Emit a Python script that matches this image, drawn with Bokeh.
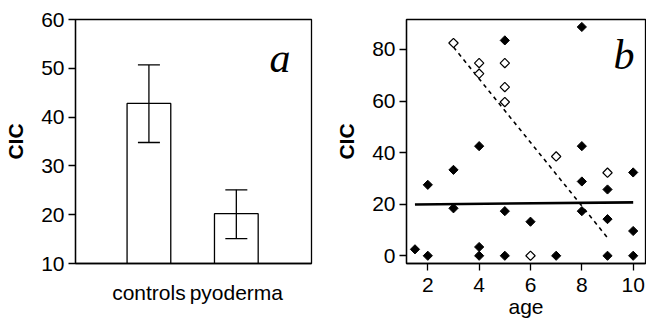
import numpy as np
from bokeh.plotting import figure
from bokeh.layouts import row
from bokeh.models import ColumnDataSource, Whisker, TeeHead, Label, FixedTicker, Range1d
from bokeh.embed import file_html
from bokeh.resources import INLINE

# ---- data: panel a ----
groups = ["controls", "pyoderma"]
group_pos = [1, 2]
cic_mean = [42.8, 20.2]
cic_lower = [34.8, 15.1]
cic_upper = [50.7, 25.1]
a_yticks = [10, 20, 30, 40, 50, 60]

# ---- data: panel b ----
filled_age = [1.5, 2, 2, 3, 3, 4, 4, 4, 5, 5, 5, 6, 7, 8, 8, 8, 8, 9, 9, 9, 10, 10, 10]
filled_cic = [2.5, 0, 27.5, 33.3, 18.4, 42.5, 3.4, 0, 83.5, 17.3, 0, 13.2, 0,
              88.7, 42.5, 28.8, 17.3, 25.7, 14.2, 0, 32.3, 9.6, 0]
open_age = [3, 4, 4, 5, 5, 5, 6, 7, 9]
open_cic = [82.5, 74.7, 70.6, 74.7, 65.4, 59.6, 0, 38.5, 32.2]
filled_fit_age = [1.5, 10]
filled_fit_cic = [19.9, 20.7]
open_fit_age = [3, 9]
open_fit_cic = [80.9, 7.0]
b_xticks = [2, 4, 6, 8, 10]
b_yticks = [0, 20, 40, 60, 80]

SANS = "Liberation Sans"
SERIF = "Liberation Serif"
LW = 1.3
FS = "21px"


def style(p):
    p.xgrid.visible = False
    p.ygrid.visible = False
    p.outline_line_color = "black"
    p.outline_line_width = LW
    p.outline_line_alpha = 1
    p.background_fill_color = "white"
    p.border_fill_color = "white"
    for ax in p.xaxis + p.yaxis:
        ax.axis_line_color = "black"
        ax.axis_line_width = LW
        ax.major_tick_line_color = "black"
        ax.major_tick_line_width = LW
        ax.major_tick_in = 0
        ax.major_tick_out = 7
        ax.minor_tick_in = 0
        ax.minor_tick_out = 0
        ax.major_label_text_font = SANS
        ax.major_label_text_font_size = FS
        ax.major_label_text_color = "black"
        ax.major_label_standoff = 4
        ax.axis_label_text_font = SANS
        ax.axis_label_text_font_size = FS
        ax.axis_label_text_color = "black"
        ax.axis_label_text_font_style = "normal"


# ---------------- panel a ----------------
p1 = figure(width=323, height=321, x_range=Range1d(0.16, 2.86), y_range=Range1d(10, 60),
            output_backend="svg", toolbar_location=None,
            min_border_left=75, min_border_right=12, min_border_top=19, min_border_bottom=58)
style(p1)
p1.vbar(x=group_pos, top=cic_mean, bottom=10, width=0.5,
        fill_color="white", line_color="black", line_width=LW)
src = ColumnDataSource(dict(x=group_pos, lower=cic_lower, upper=cic_upper))
p1.add_layout(Whisker(base="x", lower="lower", upper="upper", source=src, level="overlay",
                      line_color="black", line_width=LW,
                      upper_head=TeeHead(size=22, line_width=LW, line_color="black"),
                      lower_head=TeeHead(size=22, line_width=LW, line_color="black")))
p1.yaxis.ticker = FixedTicker(ticks=a_yticks)
p1.yaxis.axis_label = "CIC"
p1.yaxis.axis_label_text_font_style = "bold"
p1.yaxis.axis_label_standoff = 11
p1.xaxis.ticker = FixedTicker(ticks=group_pos)
p1.xaxis.major_label_overrides = {pos: name for pos, name in zip(group_pos, groups)}
p1.xaxis.major_tick_out = 0
p1.xaxis.major_label_standoff = 17
p1.add_layout(Label(x=2.5, y=52.2, text="a", text_font=SERIF, text_font_style="italic",
                    text_font_size="42px", text_align="center", text_baseline="alphabetic",
                    text_color="black"))

# ---------------- panel b ----------------
p2 = figure(width=323, height=321, x_range=Range1d(1.17, 10.48), y_range=Range1d(-3, 91.6),
            output_backend="svg", toolbar_location=None,
            min_border_left=83, min_border_right=1, min_border_top=19, min_border_bottom=58)
style(p2)
p2.line(filled_fit_age, filled_fit_cic, line_color="black", line_width=2.6)
p2.line(open_fit_age, open_fit_cic, line_color="black", line_width=1.6, line_dash="4 4")
p2.scatter(filled_age, filled_cic, marker="square", angle=np.pi / 4, size=6.5,
           fill_color="black", line_color="black", line_width=1)
p2.scatter(open_age, open_cic, marker="square", angle=np.pi / 4, size=6.6,
           fill_color="white", line_color="black", line_width=1.2)
p2.xaxis.ticker = FixedTicker(ticks=b_xticks)
p2.yaxis.ticker = FixedTicker(ticks=b_yticks)
p2.xaxis.major_label_standoff = 7
p2.xaxis.axis_label = "age"
p2.xaxis.axis_label_standoff = 0
p2.yaxis.axis_label = "CIC"
p2.yaxis.axis_label_text_font_style = "bold"
p2.yaxis.axis_label_standoff = 11
p2.add_layout(Label(x=9.64, y=78.0, text="b", text_font=SERIF, text_font_style="italic",
                    text_font_size="42px", text_align="center", text_baseline="alphabetic",
                    text_color="black"))

layout = row(p1, p2)
open("out.html", "w").write(file_html(layout, INLINE))
